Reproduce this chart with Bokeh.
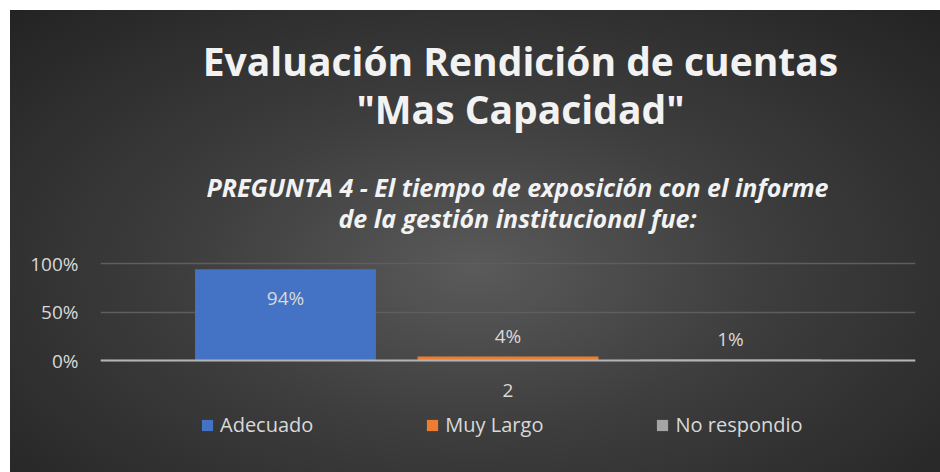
from bokeh.plotting import figure
from bokeh.models import (ColumnDataSource, Legend, LegendItem, Label, NumeralTickFormatter,
                          FixedTicker, Range1d)
from bokeh.transform import dodge
from bokeh.embed import file_html
from bokeh.resources import INLINE
from bokeh.core.properties import value

# ---- data ----
group = ["2"]
series = ["Adecuado", "Muy Largo", "No respondio"]
values = [0.94, 0.04, 0.01]
value_labels = ["94%", "4%", "1%"]
colors = ["#4472C4", "#ED7D31", "#A5A5A5"]
y_ticks = [0, 0.5, 1.0]
title_lines = ["Evaluación Rendición de cuentas", "\"Mas Capacidad\""]
subtitle_lines = ["PREGUNTA 4 - El tiempo de exposición con el informe",
                  "de la gestión institucional fue:"]

FONT = "Open Sans"
TXT = "#d9d9d9"

# frame spans the whole chart area; the value scale puts 0 at 120px above the frame
# bottom and uses 97px per 100%
FRAME_H = 470
PX_PER_UNIT = 97.0
ZERO_FROM_BOTTOM = 120
y_start = -ZERO_FROM_BOTTOM / PX_PER_UNIT
y_end = (FRAME_H - ZERO_FROM_BOTTOM) / PX_PER_UNIT

p = figure(x_range=group, y_range=Range1d(y_start, y_end),
           frame_width=815, frame_height=FRAME_H,
           output_backend="svg", toolbar_location=None,
           min_border_left=90, min_border_right=25, min_border_top=0, min_border_bottom=0)
p.margin = (10, 0, 0, 10)
p.border_fill_alpha = 0
p.background_fill_alpha = 0
p.outline_line_color = None
p.title.visible = False
p.styles = {"background": "radial-gradient(ellipse farthest-corner at 50% 55%, #5a5a5a 0%, #3d3d3d 45%, #232323 100%)"}

offsets = [-0.273, 0.0, 0.273]
items = []
for s, v, lab, c, off in zip(series, values, value_labels, colors, offsets):
    src = ColumnDataSource(dict(x=group, top=[v], lab=[lab]))
    r = p.vbar(x=dodge("x", off, range=p.x_range), top="top", bottom=0, width=0.222,
               source=src, fill_color=c, line_color=None)
    items.append(LegendItem(label=s, renderers=[r]))
    inside = v > 0.5
    p.text(x=dodge("x", off, range=p.x_range), y="top", text="lab", source=src,
           text_align="center", text_baseline="middle",
           y_offset=(29 if inside else -21),
           text_font=value(FONT), text_font_size="19px", text_color=TXT)

# y axis
p.yaxis.ticker = FixedTicker(ticks=y_ticks)
p.yaxis.formatter = NumeralTickFormatter(format="0%")
p.yaxis.axis_line_color = None
p.yaxis.major_tick_line_color = None
p.yaxis.minor_tick_line_color = None
p.yaxis.major_label_standoff = 16
p.yaxis.major_label_text_font = FONT
p.yaxis.major_label_text_font_size = "19px"
p.yaxis.major_label_text_color = TXT

# x axis drawn at value 0
p.xaxis.fixed_location = 0
p.xaxis.axis_line_color = "#b4b4b4"
p.xaxis.axis_line_width = 2
p.xaxis.major_tick_line_color = None
p.xaxis.minor_tick_line_color = None
p.xaxis.major_label_standoff = 17
p.xaxis.major_label_text_font = FONT
p.xaxis.major_label_text_font_size = "19px"
p.xaxis.major_label_text_color = TXT

p.xgrid.grid_line_color = None
p.ygrid.grid_line_color = "#5e5e5e"
p.ygrid.grid_line_width = 1.5

legend = Legend(items=items, orientation="horizontal", location=(100, 42),
                background_fill_alpha=0, border_line_color=None,
                label_text_font=FONT, label_text_font_size="20px", label_text_color=TXT,
                glyph_width=14, glyph_height=14, label_standoff=6, spacing=112,
                padding=0, margin=0)
p.add_layout(legend, "center")

# titles (screen units: x from frame left, y from frame bottom)
for txt, yy in zip(title_lines, [420, 372]):
    p.add_layout(Label(x=420, y=yy, x_units="screen", y_units="screen", text=txt,
                       text_align="center", text_baseline="middle",
                       text_font=FONT, text_font_size="39px", text_font_style="bold",
                       text_color="#f2f2f2"))
for txt, yy in zip(subtitle_lines, [294, 263]):
    p.add_layout(Label(x=417, y=yy, x_units="screen", y_units="screen", text=txt,
                       text_align="center", text_baseline="middle",
                       text_font=FONT, text_font_size="25px", text_font_style="bold italic",
                       text_color="#f2f2f2"))

open("out.html", "w").write(file_html(p, INLINE))
